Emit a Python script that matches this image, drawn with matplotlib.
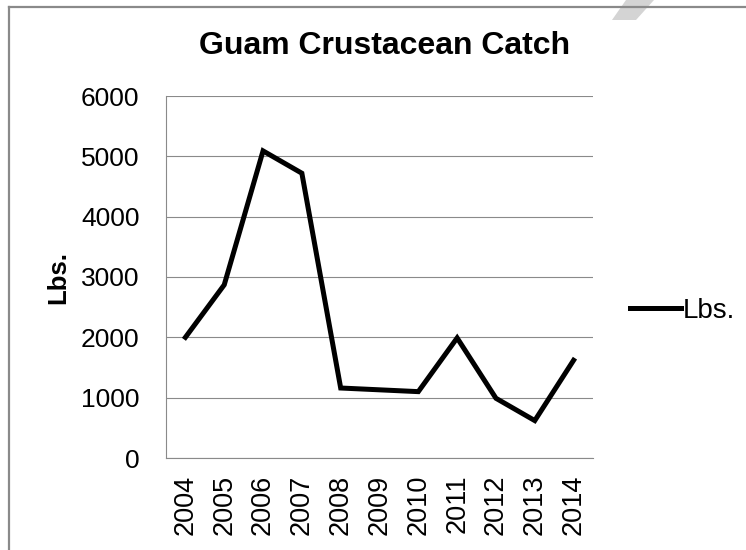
import matplotlib
matplotlib.use("Agg")
from matplotlib import pyplot as plt
from matplotlib.lines import Line2D
from matplotlib.patches import Polygon

years = ["2004", "2005", "2006", "2007", "2008", "2009",
         "2010", "2011", "2012", "2013", "2014"]
lbs = [2000, 2870, 5090, 4720, 1160, 1130, 1100, 1990, 990, 620, 1620]
yticks = [0, 1000, 2000, 3000, 4000, 5000, 6000]

plt.rcParams['font.family'] = ['Liberation Sans', 'DejaVu Sans']

W, H = 746, 550
fig = plt.figure(figsize=(W / 100, H / 100), dpi=100)
fig.patch.set_facecolor("white")

# outer chart border (cut off at right and bottom) + faint watermark stroke
fig.add_artist(Line2D([9 / W, 9 / W], [0, 1 - 7 / H], transform=fig.transFigure,
                      color="#8a8a8a", lw=1.6))
fig.add_artist(Line2D([9 / W, 1], [1 - 7 / H, 1 - 7 / H], transform=fig.transFigure,
                      color="#8a8a8a", lw=1.6))
fig.add_artist(Polygon([(626 / W, 1), (654 / W, 1), (636 / W, 1 - 20 / H), (612 / W, 1 - 20 / H)],
                       closed=True, transform=fig.transFigure, facecolor="#d4d4d4",
                       edgecolor="none", zorder=0))

ax = fig.add_axes([166 / W, 1 - 458 / H, (593 - 166) / W, (458 - 96) / H])
x = list(range(len(years)))
ax.plot(x, lbs, color="black", lw=3.6, label="Lbs.", solid_joinstyle="miter")

ax.set_xlim(-0.5, len(years) - 0.5)
ax.set_ylim(0, 6000)
ax.set_yticks(yticks)
ax.set_yticklabels([str(v) for v in yticks], fontsize=19)
ax.set_xticks(x)
ax.set_xticklabels(years, rotation=90, fontsize=19.5)
ax.tick_params(axis="y", length=0, pad=19)
ax.tick_params(axis="x", length=0, pad=12)
ax.grid(axis="y", color="#8a8a8a", lw=0.8)
ax.set_axisbelow(True)
for side in ["top", "right"]:
    ax.spines[side].set_visible(False)
for side in ["left", "bottom"]:
    ax.spines[side].set_color("#8a8a8a")
    ax.spines[side].set_linewidth(0.8)

fig.text(385 / W, 1 - 46 / H, "Guam Crustacean Catch", fontsize=23, fontweight="bold",
         ha="center", va="center")
fig.text(58 / W, 1 - 277 / H, "Lbs.", fontsize=18.5, fontweight="bold",
         rotation=90, ha="center", va="center")

ax.legend(loc="center left", bbox_to_anchor=(630 / W, 1 - 311 / H),
          bbox_transform=fig.transFigure, frameon=False, fontsize=20,
          handlelength=1.85, handletextpad=0.05, borderpad=0, borderaxespad=0)

fig.savefig("out.png", dpi=100)
